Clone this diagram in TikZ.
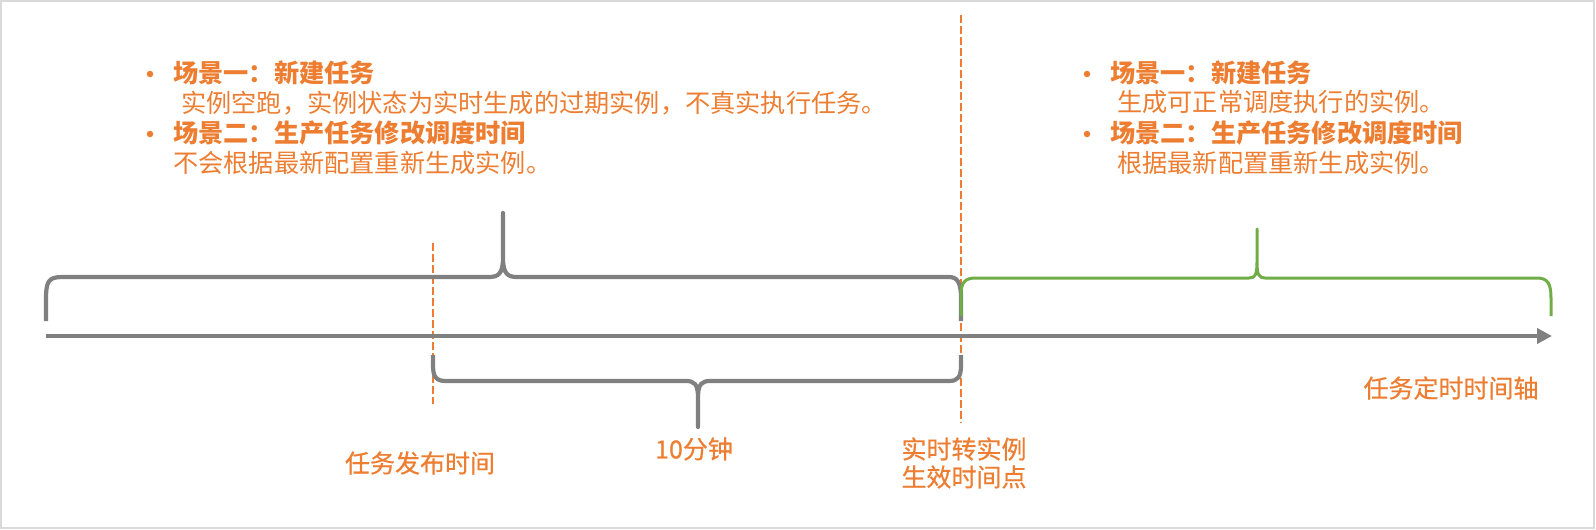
\documentclass[tikz,border=0pt]{standalone}
\usepackage{fontspec}
\newfontfamily\cjk{Noto Sans CJK SC}
\newfontfamily\cjkmed{Noto Sans CJK SC}[BoldFont={Noto Sans CJK SC}, BoldFeatures={FakeBold=0.6}]
\usetikzlibrary{arrows.meta}
\definecolor{accOrange}{HTML}{ED7D31}
\definecolor{axGray}{HTML}{808080}
\definecolor{accGreen}{HTML}{70AD47}
\definecolor{frameGray}{HTML}{D9D9D9}
\tikzset{
  txt/.style={inner sep=0pt, anchor=west, text=accOrange, font=\cjk\fontsize{25.2}{30}\selectfont},
  hd/.style={txt, font=\cjk\bfseries\fontsize{25.2}{30}\selectfont},
  lbl/.style={inner sep=0pt, text=accOrange, font=\cjkmed\bfseries\fontsize{25}{30}\selectfont},
  bul/.style={circle, fill=accOrange, inner sep=0pt, minimum size=6.5pt},
  graybrace/.style={draw=axGray, line width=4.2pt, line join=round},
  greenbrace/.style={draw=accGreen, line width=3pt, line join=round},
  guide/.style={draw=accOrange, line width=1.4pt, dash pattern=on 8pt off 3pt},
  axisline/.style={draw=axGray, line width=4.6pt, -{Triangle[length=15pt,width=15pt]}}
}
\begin{document}
\begin{tikzpicture}[x=1pt,y=-1pt]
\useasboundingbox (0,0) rectangle (1596,530);
\draw[frameGray, line width=2pt] (1,1) rectangle (1594,528);

% guide lines
\coordinate (g1t) at (433,243); \coordinate (g1b) at (433,404);
\coordinate (g2t) at (961,15);  \coordinate (g2b) at (961,423);
\draw[guide] (g1t) -- (g1b);
\draw[guide] (g2t) -- (g2b);

% axis
\coordinate (a0) at (46,336); \coordinate (a1) at (1552,336);
\draw[axisline] (a0) -- (a1);

% top gray brace
\draw[graybrace] (46,321) -- (46,300) .. controls (46,282) and (48,277) .. (62,277)
  -- (489,277) .. controls (498,277) and (503,274) .. (503,258) -- (503,213)
  -- (503,258) .. controls (503,274) and (508,277) .. (517,277)
  -- (949,277) .. controls (957,277) and (961,282) .. (961,298) -- (961,321);

% green brace
\draw[greenbrace] (961,316) -- (961,296) .. controls (961,283) and (964,278) .. (976,278)
  -- (1249,278) .. controls (1255,278) and (1257,275) .. (1257,262) -- (1257,229)
  -- (1257,262) .. controls (1257,275) and (1259,278) .. (1265,278)
  -- (1537,278) .. controls (1548,278) and (1551,284) .. (1551,298) -- (1551,316);

% bottom gray brace
\draw[graybrace] (433,355) -- (433,365) .. controls (433,377) and (436,381) .. (446,381)
  -- (686,381) .. controls (694,381) and (698,384) .. (698,397) -- (698,427)
  -- (698,397) .. controls (698,384) and (702,381) .. (710,381)
  -- (949,381) .. controls (958,381) and (961,377) .. (961,365) -- (961,355);

% left text block
\node[bul] (b1) at (150,74) {};
\node[hd] (h1) at (173,73) {场景一：新建任务};
\node[txt] (t1) at (181,103) {实例空跑，实例状态为实时生成的过期实例，不真实执行任务。};
\node[bul] (b2) at (150,134) {};
\node[hd] (h2) at (173,133) {场景二：生产任务修改调度时间};
\node[txt] (t2) at (173,163) {不会根据最新配置重新生成实例。};

% right text block
\node[bul] (b3) at (1087,74) {};
\node[hd] (h3) at (1110,73) {场景一：新建任务};
\node[txt] (t3) at (1117,102) {生成可正常调度执行的实例。};
\node[bul] (b4) at (1087,134) {};
\node[hd] (h4) at (1110,133) {场景二：生产任务修改调度时间};
\node[txt] (t4) at (1117,163) {根据最新配置重新生成实例。};

% bottom labels
\node[lbl] (l1) at (420,463) {任务发布时间};
\node[lbl] (l2) at (694,449) {10分钟};
\node[lbl] (l3) at (964,449) {实时转实例};
\node[lbl] (l4) at (964,477) {生效时间点};
\node[lbl] (l5) at (1451,388) {任务定时时间轴};
\end{tikzpicture}
\end{document}
